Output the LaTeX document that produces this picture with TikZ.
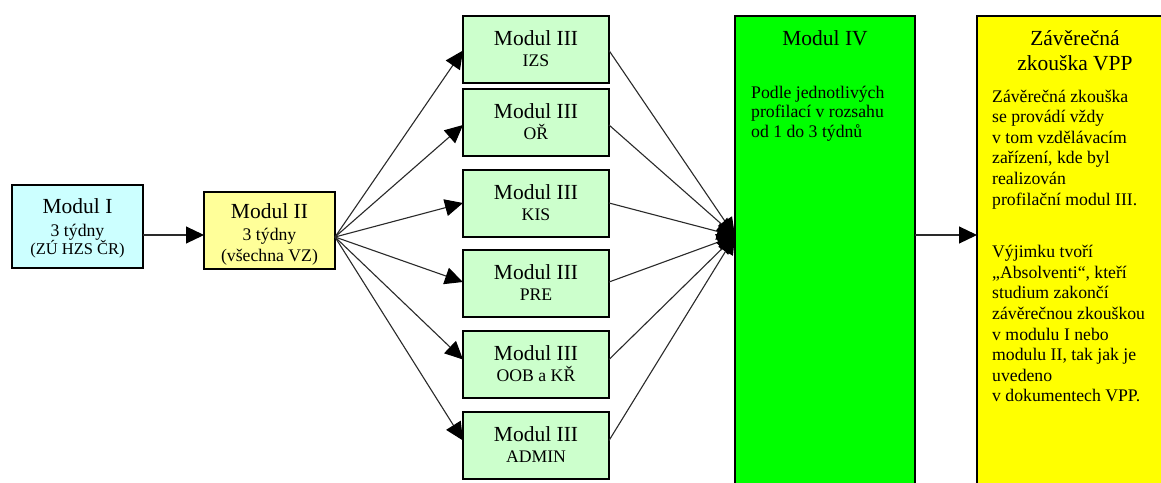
\documentclass[tikz,border=0pt]{standalone}
\usepackage{fontspec}
\setmainfont{Liberation Serif}
\usetikzlibrary{arrows.meta}
\definecolor{cyanfill}{HTML}{CCFFFF}
\definecolor{paleyellow}{HTML}{FFFF99}
\definecolor{palegreen}{HTML}{CCFFCC}
\definecolor{brightgreen}{HTML}{00FF00}
\definecolor{brightyellow}{HTML}{FFFF00}
\definecolor{linkgrey}{HTML}{2A2A2A}
\begin{document}
\begin{tikzpicture}[x=1pt,y=-1pt,
  box/.style={draw=black, line width=1.3pt, inner sep=0pt, outer sep=0pt, anchor=north west},
  modbox/.style={box, fill=palegreen, minimum width=146pt, minimum height=67pt},
  ttl/.style={font=\fontsize{21.5}{25}\selectfont, inner sep=0pt, anchor=base},
  sub/.style={font=\fontsize{17.7}{20.6}\selectfont, inner sep=0pt, anchor=base},
  link/.style={draw=linkgrey, line width=1.1pt, -{Triangle[length=18pt,width=17pt,color=black]}},
]
\useasboundingbox (0,0) rectangle (1161,482);
\clip (0,0) rectangle (1161,482);
\fill[white] (0,0) rectangle (1161,482);

% Module I and II
\node[box, fill=cyanfill, minimum width=131pt, minimum height=83pt] (m1) at (12,185) {};
\node[ttl] (m1t) at ([yshift=-28pt]m1.north) {Modul I};
\node[sub] (m1s) at ([yshift=-51pt]m1.north) {3 týdny};
\node[sub, font=\fontsize{16.5}{20}\selectfont] (m1u) at ([yshift=-69pt]m1.north) {(ZÚ HZS ČR)};

\node[box, fill=paleyellow, minimum width=131pt, minimum height=77pt] (m2) at (204,192) {};
\node[ttl] (m2t) at ([yshift=-26pt]m2.north) {Modul II};
\node[sub] (m2s) at ([yshift=-48pt]m2.north) {3 týdny};
\node[sub] (m2u) at ([yshift=-69pt]m2.north) {(všechna VZ)};

% Module III variants
\foreach \n/\y/\lab in {a/16/IZS, b/89/OŘ, c/170/KIS, d/250/PRE, e/331/OOB a KŘ, f/412/ADMIN} {
  \node[modbox] (m3\n) at (463,\y) {};
  \node[ttl] (m3\n t) at ([yshift=-29pt]m3\n.north) {Modul III};
  \node[sub] (m3\n s) at ([yshift=-50.5pt]m3\n.north) {\lab};
}

% Module IV
\node[box, fill=brightgreen, minimum width=180pt, minimum height=520pt] (m4) at (735,16) {};
\node[ttl] (m4t) at ([yshift=-29pt]m4.north) {Modul IV};
\node[sub, anchor=base west] (m4b) at ([xshift=16pt,yshift=-82pt]m4.north west)
  {\parbox[t]{160pt}{\raggedright\fontsize{17.7}{19.8}\selectfont
   Podle jednotlivých\\profilací v rozsahu\\od 1 do 3 týdnů}};

% Final exam
\node[box, fill=brightyellow, minimum width=196pt, minimum height=520pt] (zv) at (977,16) {};
\node[ttl] (zvt) at ([yshift=-29pt]zv.north)
  {\parbox[t]{190pt}{\centering\fontsize{21.5}{25}\selectfont Závěrečná\\zkouška VPP}};
\node[sub, anchor=base west] (zvb) at ([xshift=15pt,yshift=-86pt]zv.north west)
  {\parbox[t]{180pt}{\raggedright\fontsize{17.7}{20.6}\selectfont
   Závěrečná zkouška\\se provádí vždy\\v tom vzdělávacím\\zařízení, kde byl\\realizován\\profilační modul III.\\[32pt]
   Výjimku tvoří\\„Absolventi“, kteří\\studium zakončí\\závěrečnou zkouškou\\v modulu I nebo\\modulu II, tak jak je\\uvedeno\\v dokumentech VPP.}};

% Connectors
\coordinate (fan) at ([yshift=-6.5pt]m2.east);
\coordinate (hub) at ([yshift=-220pt]m4.north west);
\coordinate (out) at ([yshift=-219pt]m4.north east);

\draw[link] ([yshift=-8.5pt]m1.east) -- ([yshift=-8.5pt]m1.east -| m2.west);
\foreach \n/\d in {a/-1,b/-2.5,c/0.5,d/1.5,e/5,f/5} {
  \draw[link] (fan) -- ([yshift=\d pt]m3\n.west);
  \draw[link] ([yshift=\d pt]m3\n.east) -- (hub);
}
\draw[link] (out) -- (out -| zv.west);
\end{tikzpicture}
\end{document}
